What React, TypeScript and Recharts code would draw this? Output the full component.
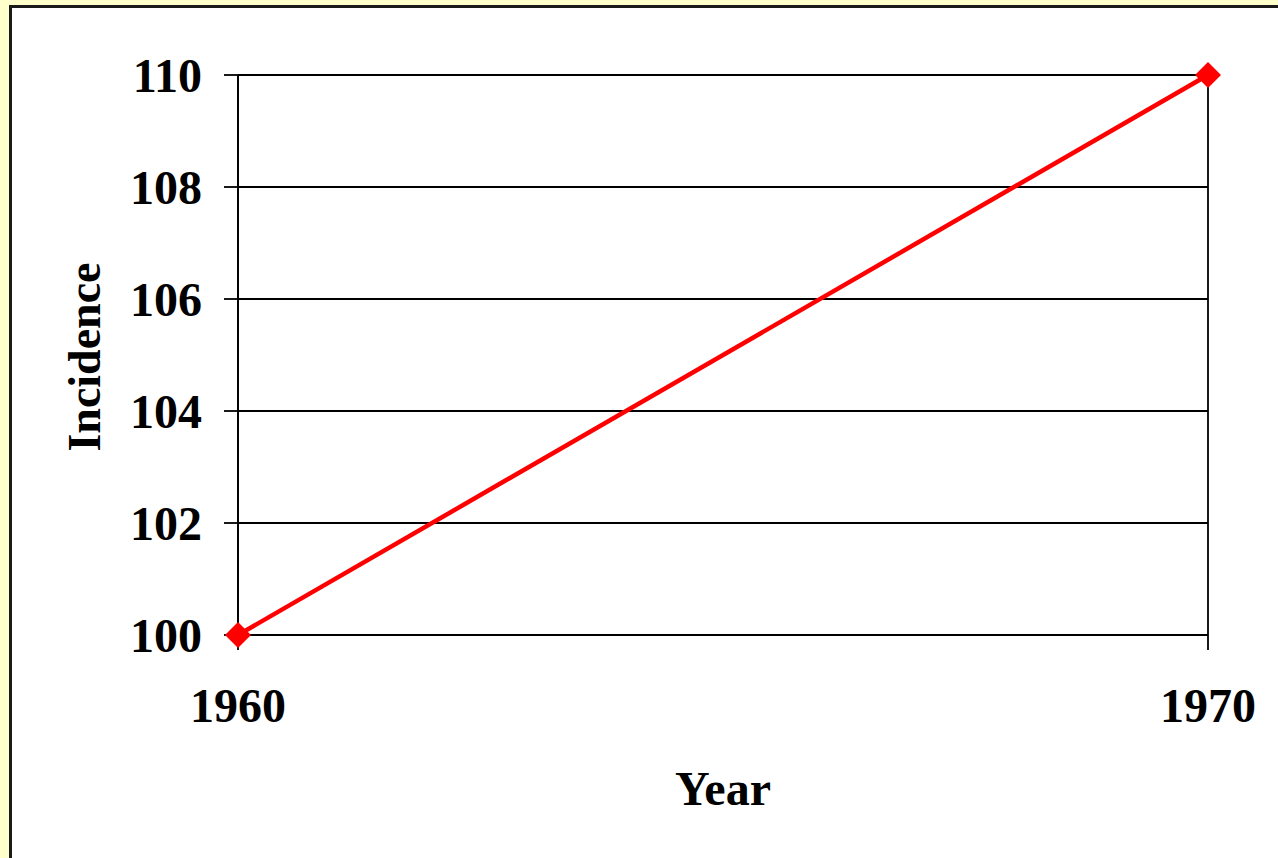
import { CartesianGrid, Label, Line, LineChart, XAxis, YAxis } from "recharts";

const years = [1960, 1970];
const incidence = [100, 110];
const yTicks = [100, 102, 104, 106, 108, 110];

const data = years.map((year, i) => ({ year, value: incidence[i] }));

const font = {
	fontFamily: "'Liberation Serif', 'Times New Roman', serif",
	fontWeight: 700,
	fontSize: 48,
	fill: "#000",
};

function Diamond(props: any) {
	const { cx, cy, index } = props;
	if (cx == null || cy == null) return null;
	const r = 13;
	return (
		<polygon
			key={`d-${index}`}
			points={`${cx},${cy - r} ${cx + r},${cy} ${cx},${cy + r} ${cx - r},${cy}`}
			fill="#ff0000"
		/>
	);
}

export default function App() {
	return (
		<div
			style={{
				position: "absolute",
				left: 0,
				top: 0,
				width: 1278,
				height: 858,
				background: "#ffffcc",
				overflow: "hidden",
			}}
		>
			<div
				style={{
					position: "absolute",
					left: 9,
					top: 5,
					width: 1300,
					height: 900,
					background: "#fff",
					border: "3px solid #1a1a1a",
				}}
			/>
			<div style={{ position: "absolute", left: 0, top: 0 }}>
				<LineChart
					width={1278}
					height={858}
					data={data}
					margin={{ top: 75, right: 70, left: 0, bottom: 0 }}
				>
					<CartesianGrid stroke="#000" strokeWidth={1.8} vertical={true} horizontal={true} />
					<XAxis
						dataKey="year"
						type="number"
						domain={[1960, 1970]}
						ticks={years}
						height={223}
						tickSize={15}
						tickMargin={38}
						axisLine={{ stroke: "#000", strokeWidth: 1.8 }}
						tickLine={{ stroke: "#000", strokeWidth: 1.8 }}
						tick={font}
					>
						<Label
							content={({ viewBox }: any) => (
								<text
									x={viewBox.x + viewBox.width / 2}
									y={viewBox.y + 170}
									textAnchor="middle"
									{...font}
								>
									Year
								</text>
							)}
						/>
					</XAxis>
					<YAxis
						type="number"
						domain={[100, 110]}
						ticks={yTicks}
						width={238}
						tickSize={14}
						tickMargin={22}
						interval={0}
						axisLine={{ stroke: "#000", strokeWidth: 1.8 }}
						tickLine={{ stroke: "#000", strokeWidth: 1.8 }}
						tick={font}
					>
						<Label
							content={({ viewBox }: any) => {
								const x = viewBox.x + 100;
								const y = viewBox.y + viewBox.height / 2 + 2;
								return (
									<text
										x={x}
										y={y}
										textAnchor="middle"
										transform={`rotate(-90, ${x}, ${y})`}
										{...font}
										fontSize={46}
									>
										Incidence
									</text>
								);
							}}
						/>
					</YAxis>
					<Line
						type="linear"
						dataKey="value"
						stroke="#ff0000"
						strokeWidth={4.5}
						dot={Diamond}
						activeDot={false}
						isAnimationActive={false}
					/>
				</LineChart>
			</div>
		</div>
	);
}
